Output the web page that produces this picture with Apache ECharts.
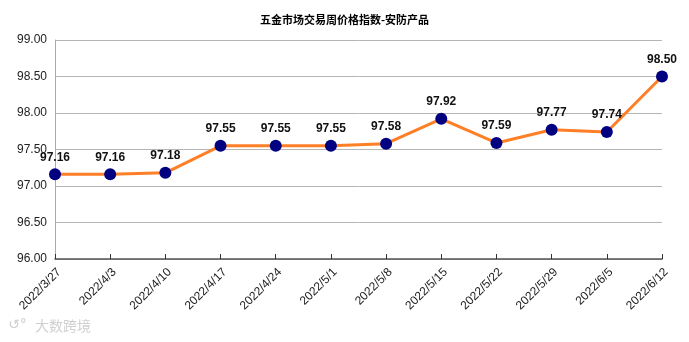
<!DOCTYPE html>
<html><head><meta charset="utf-8">
<script src="https://cdn.jsdelivr.net/npm/echarts@6/dist/echarts.min.js"></script>
<style>html,body{margin:0;padding:0;background:#fff}#c{width:689px;height:342px}</style>
</head><body><div id="c"></div>
<script>
const categories = ['2022/3/27','2022/4/3','2022/4/10','2022/4/17','2022/4/24','2022/5/1','2022/5/8','2022/5/15','2022/5/22','2022/5/29','2022/6/5','2022/6/12'];
const values = [97.16,97.16,97.18,97.55,97.55,97.55,97.58,97.92,97.59,97.77,97.74,98.50];
const titleText = '五金市场交易周价格指数-安防产品';
const chart = echarts.init(document.getElementById('c'));
chart.setOption({
  animation:false,
  title:{text:titleText,left:'center',top:9,textStyle:{fontSize:11,fontWeight:'bold',color:'#000',fontFamily:'Noto Sans CJK SC'}},
  graphic:[
    {type:'text',left:8,top:318,style:{text:'↺°',fill:'#d0d0d0',font:'14px "DejaVu Sans"'}},
    {type:'text',left:35,top:319,style:{text:'大数跨境',fill:'#d0d0d0',font:'14px "Noto Sans CJK SC"'}}
  ],
  grid:{left:55,right:27,top:40,bottom:83},
  xAxis:{type:'category',data:categories,boundaryGap:false,
    axisLine:{lineStyle:{color:'#555',width:1.5}},
    axisTick:{show:true,alignWithLabel:true,lineStyle:{color:'#333'},length:5,inside:true},
    axisLabel:{rotate:45,fontSize:12,color:'#222',fontFamily:'Liberation Sans',margin:7,interval:0,verticalAlign:'top'},
    splitLine:{show:false}},
  yAxis:{type:'value',min:96,max:99,interval:0.5,
    axisLine:{show:true,lineStyle:{color:'#aaa'}},
    axisTick:{show:false},
    axisLabel:{formatter:v=>v.toFixed(2),fontSize:12,color:'#222',fontFamily:'Liberation Sans',margin:8},
    splitLine:{lineStyle:{color:'#b5b5b5',width:1}}},
  series:[{type:'line',data:values,symbol:'circle',symbolSize:12,
    lineStyle:{color:'#ff7f27',width:3},
    itemStyle:{color:'#000080'},
    label:{show:true,position:'top',distance:5,formatter:p=>p.value.toFixed(2),fontSize:12,fontWeight:'bold',color:'#111',fontFamily:'Liberation Sans'}}]
});
</script></body></html>
